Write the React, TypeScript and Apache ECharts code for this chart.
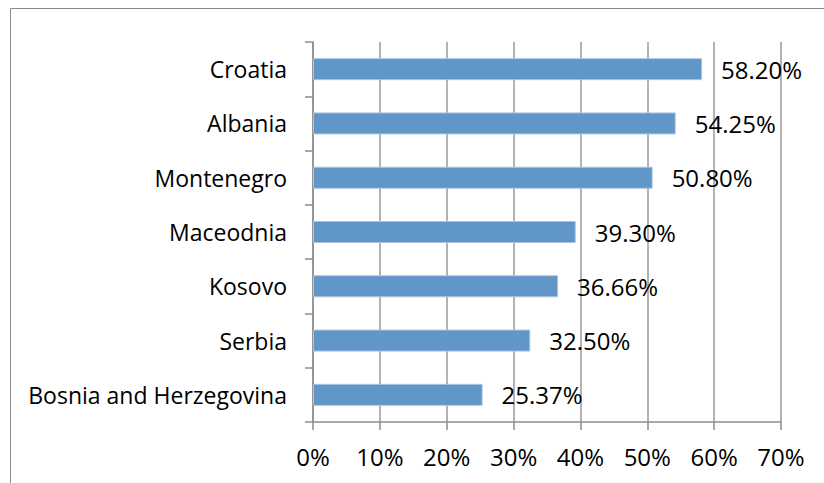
import React, { useEffect, useRef } from "react";
import * as echarts from "echarts";

const categories = ["Croatia", "Albania", "Montenegro", "Maceodnia", "Kosovo", "Serbia", "Bosnia and Herzegovina"];
const values = [58.2, 54.25, 50.8, 39.3, 36.66, 32.5, 25.37];
const xMin = 0;
const xMax = 70;
const xStep = 10;

const FONT = "Open Sans";
const FS_CAT = 23;
const FS_NUM = 24;

export default function App() {
  const ref = useRef<HTMLDivElement>(null);
  useEffect(() => {
    document.body.style.margin = "0";
    if (!ref.current) return;
    const chart = echarts.init(ref.current, null, { renderer: "svg" });
    const axisGray = "#8c8c8c";
    chart.setOption({
      animation: false,
      backgroundColor: "#ffffff",
      textStyle: { fontFamily: FONT },
      grid: { left: 313, right: 43, top: 42, bottom: 61, containLabel: false },
      graphic: [
        {
          type: "rect",
          shape: { x: 10.5, y: 8.5, width: 900, height: 600 },
          style: { fill: "none", stroke: "#8a8a8a", lineWidth: 1 },
          silent: true,
        },
      ],
      xAxis: {
        type: "value",
        min: xMin,
        max: xMax,
        interval: xStep,
        axisLine: { show: true, lineStyle: { color: axisGray, width: 1.5 } },
        axisTick: { show: true, length: 8, lineStyle: { color: axisGray, width: 1.5 } },
        splitLine: { show: true, lineStyle: { color: "#9a9a9a", width: 1.5 } },
        axisLabel: {
          formatter: "{value}%",
          color: "#000",
          fontFamily: FONT,
          fontSize: FS_NUM,
          margin: 22,
        },
      },
      yAxis: {
        type: "category",
        inverse: true,
        data: categories,
        axisLine: { show: true, lineStyle: { color: axisGray, width: 1.5 } },
        axisTick: { show: true, length: 8, lineStyle: { color: axisGray, width: 1.5 } },
        axisLabel: {
          color: "#000",
          fontFamily: FONT,
          fontSize: FS_CAT,
          margin: 26,
        },
        splitLine: { show: false },
      },
      series: [
        {
          type: "bar",
          data: values,
          barWidth: 22,
          itemStyle: { color: "#6196c8", borderColor: "#a9c4e0", borderWidth: 1 },
          label: {
            show: true,
            position: "right",
            distance: 19,
            color: "#000",
            fontFamily: FONT,
            fontSize: FS_NUM,
            formatter: (p: any) => p.value.toFixed(2) + "%",
          },
        },
      ],
    });
    return () => chart.dispose();
  }, []);
  return <div ref={ref} style={{ width: 824, height: 483 }} />;
}
